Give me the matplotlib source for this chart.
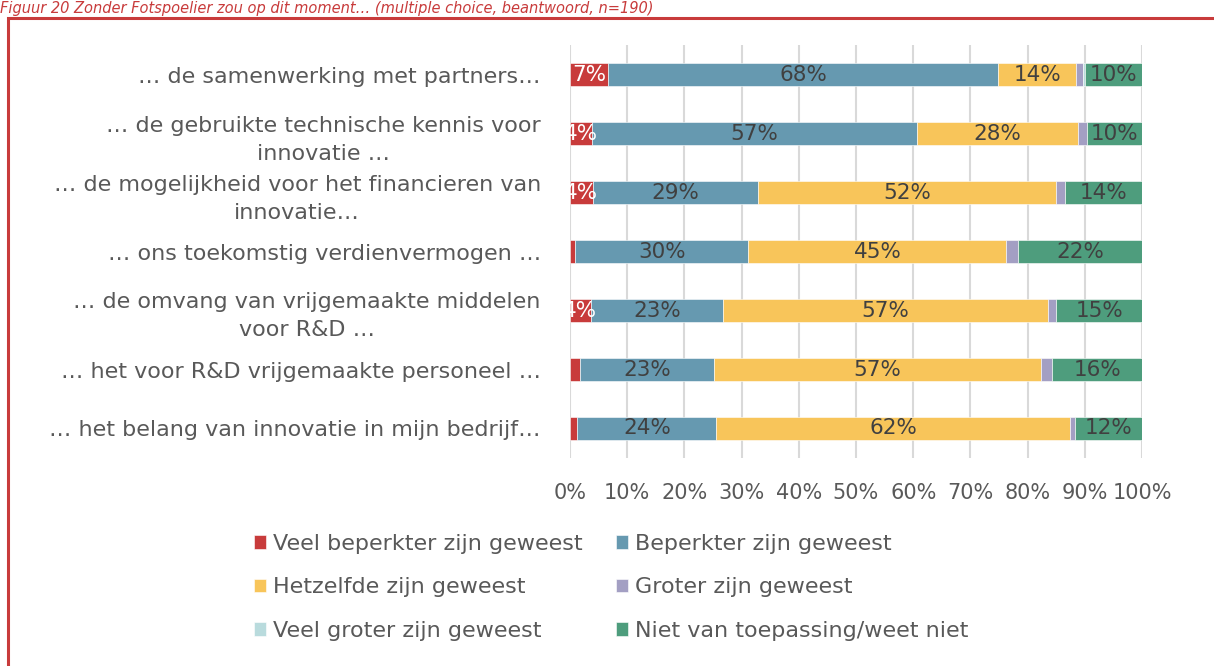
import numpy as np
import matplotlib
matplotlib.use('Agg')
import matplotlib.pyplot as plt
from matplotlib.patches import Rectangle

# categorieen (van boven naar onder)
categorieen = ['… de samenwerking met partners…',
               '… de gebruikte technische kennis voor\ninnovatie …',
               '… de mogelijkheid voor het financieren van\ninnovatie…',
               '… ons toekomstig verdienvermogen …',
               '… de omvang van vrijgemaakte middelen\nvoor R&D …',
               '… het voor R&D vrijgemaakte personeel …',
               '… het belang van innovatie in mijn bedrijf…']

reeksen = ['Veel beperkter zijn geweest', 'Beperkter zijn geweest', 'Hetzelfde zijn geweest',
           'Groter zijn geweest', 'Veel groter zijn geweest', 'Niet van toepassing/weet niet']

veel_beperkter = [6.6, 3.8, 4.0, 0.9, 3.6, 1.8, 1.3]
beperkter = [68.3, 56.8, 28.9, 30.3, 23.2, 23.4, 24.3]
hetzelfde = [13.6, 28.2, 52.1, 45.1, 56.7, 57.1, 61.8]
groter = [1.1, 1.6, 1.6, 2.0, 1.5, 2.0, 0.9]
veel_groter = [0.5, 0.0, 0.0, 0.0, 0.0, 0.0, 0.0]
niet_van_toepassing = [10.1, 9.6, 13.6, 21.7, 15.2, 15.7, 11.7]

kleuren = ['#C83B3B', '#6699B0', '#F8C55A', '#A39FC3', '#B9DBDD', '#4E9D7D']
label_kleuren = ['white', '#404040', '#404040', '#404040', '#404040', '#404040']

data = [veel_beperkter, beperkter, hetzelfde, groter, veel_groter, niet_van_toepassing]

plt.rcParams['font.family'] = ['DejaVu Sans']

fig = plt.figure(figsize=(12.14, 6.66), dpi=100)
ax = fig.add_axes([570/1214, 1-458/666, 572/1214, 413/666])

y = np.arange(len(categorieen))
links = np.zeros(len(categorieen))
balken = []
for i, reeks in enumerate(data):
    waarden = np.array(reeks)
    b = ax.barh(y, waarden, left=links, height=0.4, color=kleuren[i],
                edgecolor='white', linewidth=0.4, label=reeksen[i], zorder=2)
    balken.append(b)
    teksten = [f'{w:.0f}%' if w >= 3 else '' for w in waarden]
    ax.bar_label(b, labels=teksten, label_type='center', color=label_kleuren[i],
                 fontsize=15.5, zorder=3)
    links += waarden

ax.set_xlim(0, 100)
ax.set_ylim(len(categorieen) - 0.5, -0.5)
ax.set_yticks(y)
ax.set_yticklabels(categorieen, fontsize=16, color='#595959')
for lab in ax.get_yticklabels():
    lab.set_multialignment('center')
    lab.set_linespacing(1.5)
ax.set_xticks(np.arange(0, 101, 10))
ax.set_xticklabels([f'{t}%' for t in range(0, 101, 10)], fontsize=15, color='#595959')
ax.tick_params(axis='both', length=0)
ax.tick_params(axis='y', pad=21)
ax.tick_params(axis='x', pad=18)
ax.grid(axis='x', color='#D9D9D9', linewidth=1.5, zorder=0)
for s in ax.spines.values():
    s.set_visible(False)

volgorde = [0, 2, 4, 1, 3, 5]
handles = [balken[k] for k in volgorde]
labels = [reeksen[k] for k in volgorde]
leg = fig.legend(handles, labels, loc='upper left', bbox_to_anchor=(234/1214, 1-514/666),
                 ncol=2, frameon=False, fontsize=16, handlelength=0.55, handleheight=0.55,
                 handletextpad=0.3, columnspacing=1.5, labelspacing=1.05)
for t in leg.get_texts():
    t.set_color('#595959')

# rode kader en bijschrift
fig.patches.append(Rectangle((8/1214, -0.1), 1.2, 1.1 - 18/666, transform=fig.transFigure,
                             fill=False, edgecolor='#C83B3B', linewidth=2.2))
fig.text(0.0, 1 - 1/666, 'Figuur 20 Zonder Fotspoelier zou op dit moment… (multiple choice, beantwoord, n=190)',
         color='#C83B3B', style='italic', fontsize=10.5, ha='left', va='top')

fig.savefig('out.png', dpi=100)
